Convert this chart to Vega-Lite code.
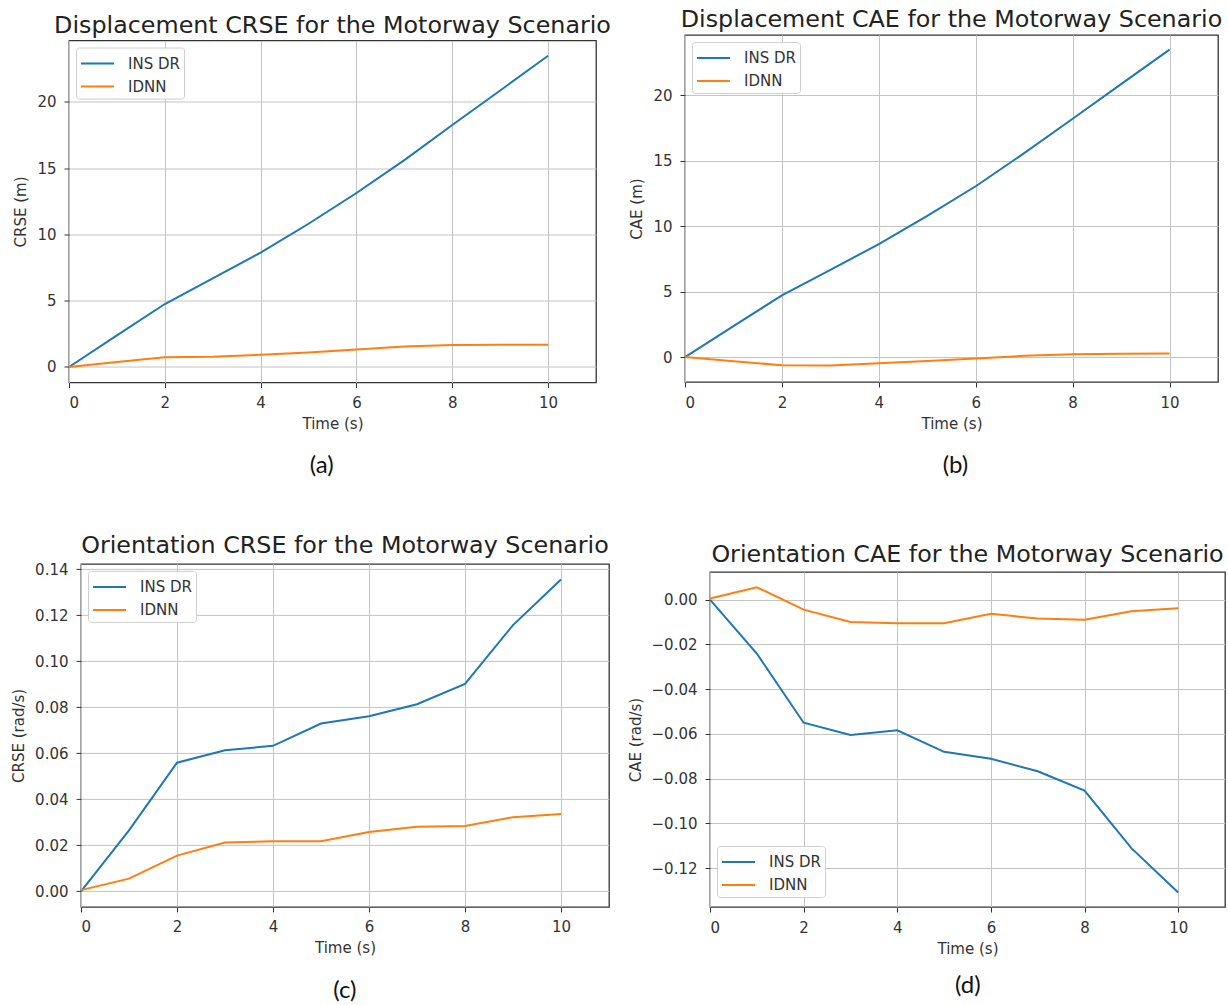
{
  "$schema": "https://vega.github.io/schema/vega-lite/v6.json",
  "background": "white",
  "padding": 0,
  "config": {
    "view": {"stroke": "#333", "strokeWidth": 1.3},
    "axis": {
      "domain": false,
      "grid": true,
      "gridColor": "#c4c4c4",
      "gridWidth": 1,
      "tickColor": "#333",
      "tickSize": 5,
      "tickWidth": 1,
      "labelFont": "DejaVu Sans",
      "labelFontSize": 15,
      "labelColor": "#333",
      "labelPadding": 8,
      "titleFont": "DejaVu Sans",
      "titleFontSize": 15,
      "titleFontWeight": "normal",
      "titleColor": "#333",
      "titlePadding": 8
    },
    "axisX": {"titlePadding": 6},
    "legend": {
      "title": null,
      "fillColor": "white",
      "strokeColor": "#d0d0d0",
      "cornerRadius": 3,
      "padding": 4,
      "offset": 7,
      "labelFont": "DejaVu Sans",
      "labelFontSize": 15,
      "labelColor": "#333",
      "symbolType": "M-1,0H2",
      "symbolStrokeWidth": 2,
      "symbolSize": 484,
      "labelOffset": 24,
      "rowPadding": 3
    },
    "line": {"strokeWidth": 2}
  },
  "datasets": {
    "none": [],
    "a": [
      {"t": 0, "s": "INS DR", "v": 0}, {"t": 1, "s": "INS DR", "v": 2.38}, {"t": 2, "s": "INS DR", "v": 4.75}, {"t": 3, "s": "INS DR", "v": 6.68}, {"t": 4, "s": "INS DR", "v": 8.62}, {"t": 5, "s": "INS DR", "v": 10.8}, {"t": 6, "s": "INS DR", "v": 13.12}, {"t": 7, "s": "INS DR", "v": 15.6}, {"t": 8, "s": "INS DR", "v": 18.25}, {"t": 9, "s": "INS DR", "v": 20.85}, {"t": 10, "s": "INS DR", "v": 23.47},
      {"t": 0, "s": "IDNN", "v": 0}, {"t": 1, "s": "IDNN", "v": 0.38}, {"t": 2, "s": "IDNN", "v": 0.73}, {"t": 3, "s": "IDNN", "v": 0.78}, {"t": 4, "s": "IDNN", "v": 0.92}, {"t": 5, "s": "IDNN", "v": 1.1}, {"t": 6, "s": "IDNN", "v": 1.32}, {"t": 7, "s": "IDNN", "v": 1.55}, {"t": 8, "s": "IDNN", "v": 1.65}, {"t": 9, "s": "IDNN", "v": 1.67}, {"t": 10, "s": "IDNN", "v": 1.68}
    ],
    "b": [
      {"t": 0, "s": "INS DR", "v": 0}, {"t": 1, "s": "INS DR", "v": 2.36}, {"t": 2, "s": "INS DR", "v": 4.72}, {"t": 3, "s": "INS DR", "v": 6.66}, {"t": 4, "s": "INS DR", "v": 8.63}, {"t": 5, "s": "INS DR", "v": 10.78}, {"t": 6, "s": "INS DR", "v": 13.05}, {"t": 7, "s": "INS DR", "v": 15.58}, {"t": 8, "s": "INS DR", "v": 18.2}, {"t": 9, "s": "INS DR", "v": 20.85}, {"t": 10, "s": "INS DR", "v": 23.48},
      {"t": 0, "s": "IDNN", "v": 0}, {"t": 1, "s": "IDNN", "v": -0.32}, {"t": 2, "s": "IDNN", "v": -0.62}, {"t": 3, "s": "IDNN", "v": -0.64}, {"t": 4, "s": "IDNN", "v": -0.47}, {"t": 5, "s": "IDNN", "v": -0.3}, {"t": 6, "s": "IDNN", "v": -0.1}, {"t": 7, "s": "IDNN", "v": 0.1}, {"t": 8, "s": "IDNN", "v": 0.22}, {"t": 9, "s": "IDNN", "v": 0.25}, {"t": 10, "s": "IDNN", "v": 0.27}
    ],
    "c": [
      {"t": 0, "s": "INS DR", "v": 0}, {"t": 1, "s": "INS DR", "v": 0.0265}, {"t": 2, "s": "INS DR", "v": 0.0559}, {"t": 3, "s": "INS DR", "v": 0.0613}, {"t": 4, "s": "INS DR", "v": 0.0632}, {"t": 5, "s": "INS DR", "v": 0.0729}, {"t": 6, "s": "INS DR", "v": 0.0761}, {"t": 7, "s": "INS DR", "v": 0.0813}, {"t": 8, "s": "INS DR", "v": 0.0901}, {"t": 9, "s": "INS DR", "v": 0.1157}, {"t": 10, "s": "INS DR", "v": 0.1355},
      {"t": 0, "s": "IDNN", "v": 0.0005}, {"t": 1, "s": "IDNN", "v": 0.0055}, {"t": 2, "s": "IDNN", "v": 0.0155}, {"t": 3, "s": "IDNN", "v": 0.0212}, {"t": 4, "s": "IDNN", "v": 0.0217}, {"t": 5, "s": "IDNN", "v": 0.0217}, {"t": 6, "s": "IDNN", "v": 0.0258}, {"t": 7, "s": "IDNN", "v": 0.028}, {"t": 8, "s": "IDNN", "v": 0.0284}, {"t": 9, "s": "IDNN", "v": 0.0322}, {"t": 10, "s": "IDNN", "v": 0.0336}
    ],
    "d": [
      {"t": 0, "s": "INS DR", "v": 0}, {"t": 1, "s": "INS DR", "v": -0.0241}, {"t": 2, "s": "INS DR", "v": -0.055}, {"t": 3, "s": "INS DR", "v": -0.0605}, {"t": 4, "s": "INS DR", "v": -0.0584}, {"t": 5, "s": "INS DR", "v": -0.068}, {"t": 6, "s": "INS DR", "v": -0.0711}, {"t": 7, "s": "INS DR", "v": -0.0767}, {"t": 8, "s": "INS DR", "v": -0.0853}, {"t": 9, "s": "INS DR", "v": -0.111}, {"t": 10, "s": "INS DR", "v": -0.1308},
      {"t": 0, "s": "IDNN", "v": 0.0005}, {"t": 1, "s": "IDNN", "v": 0.0055}, {"t": 2, "s": "IDNN", "v": -0.0045}, {"t": 3, "s": "IDNN", "v": -0.01}, {"t": 4, "s": "IDNN", "v": -0.0106}, {"t": 5, "s": "IDNN", "v": -0.0106}, {"t": 6, "s": "IDNN", "v": -0.0064}, {"t": 7, "s": "IDNN", "v": -0.0085}, {"t": 8, "s": "IDNN", "v": -0.009}, {"t": 9, "s": "IDNN", "v": -0.0052}, {"t": 10, "s": "IDNN", "v": -0.0039}
    ]
  },
  "columns": 2,
  "align": "all",
  "spacing": {"row": 39.5, "column": 10},
  "resolve": {"scale": {"color": "independent"}, "legend": {"color": "independent"}},
  "concat": [
    {
      "title": {"text": "(a)", "orient": "bottom", "anchor": "middle", "font": "Lato", "fontSize": 24, "fontWeight": "normal", "color": "#111", "offset": 21.5, "dx": 16},
      "spacing": 11.5,
      "resolve": {"scale": {"color": "independent"}, "legend": {"color": "independent"}},
      "vconcat": [
        {"width": 1, "height": 1, "data": {"name": "none"}, "mark": {"type": "point", "opacity": 0}, "view": {"stroke": null}},
        {
          "spacing": 12,
          "resolve": {"scale": {"color": "independent"}, "legend": {"color": "independent"}},
          "hconcat": [
            {"width": 1, "height": 1, "data": {"name": "none"}, "mark": {"type": "point", "opacity": 0}, "view": {"stroke": null}},
            {
              "title": {"text": "Displacement CRSE for the Motorway Scenario", "font": "DejaVu Sans", "fontSize": 23.8, "fontWeight": "normal", "color": "#222", "offset": 3, "anchor": "middle"},
              "width": 527, "height": 342,
              "data": {"name": "a"},
              "mark": {"type": "line"},
              "encoding": {
                "x": {"field": "t", "type": "quantitative", "title": "Time (s)", "scale": {"domain": [0, 11], "nice": false, "zero": false}, "axis": {"values": [0, 2, 4, 6, 8, 10]}},
                "y": {"field": "v", "type": "quantitative", "title": "CRSE (m)", "scale": {"domain": [-1.17, 24.62], "nice": false, "zero": false}, "axis": {"values": [0, 5, 10, 15, 20]}},
                "color": {"field": "s", "type": "nominal", "scale": {"domain": ["INS DR", "IDNN"], "range": ["#1f77b4", "#ff7f0e"]}, "legend": {"orient": "top-left"}}
              }
            }
          ]
        }
      ]
    },
    {
      "title": {"text": "(b)", "orient": "bottom", "anchor": "middle", "font": "Lato", "fontSize": 24, "fontWeight": "normal", "color": "#111", "offset": 22, "dx": 33},
      "spacing": 6,
      "resolve": {"scale": {"color": "independent"}, "legend": {"color": "independent"}},
      "vconcat": [
        {"width": 1, "height": 1, "data": {"name": "none"}, "mark": {"type": "point", "opacity": 0}, "view": {"stroke": null}},
        {
          "spacing": 6,
          "resolve": {"scale": {"color": "independent"}, "legend": {"color": "independent"}},
          "hconcat": [
            {"width": 1, "height": 1, "data": {"name": "none"}, "mark": {"type": "point", "opacity": 0}, "view": {"stroke": null}},
            {
              "title": {"text": "Displacement CAE for the Motorway Scenario", "font": "DejaVu Sans", "fontSize": 23.8, "fontWeight": "normal", "color": "#222", "offset": 3, "anchor": "middle"},
              "width": 533, "height": 347,
              "data": {"name": "b"},
              "mark": {"type": "line"},
              "encoding": {
                "x": {"field": "t", "type": "quantitative", "title": "Time (s)", "scale": {"domain": [0, 11], "nice": false, "zero": false}, "axis": {"values": [0, 2, 4, 6, 8, 10]}},
                "y": {"field": "v", "type": "quantitative", "title": "CAE (m)", "scale": {"domain": [-1.9, 24.6], "nice": false, "zero": false}, "axis": {"values": [0, 5, 10, 15, 20]}},
                "color": {"field": "s", "type": "nominal", "scale": {"domain": ["INS DR", "IDNN"], "range": ["#1f77b4", "#ff7f0e"]}, "legend": {"orient": "top-left"}}
              }
            }
          ]
        }
      ]
    },
    {
      "title": {"text": "(c)", "orient": "bottom", "anchor": "middle", "font": "Lato", "fontSize": 24, "fontWeight": "normal", "color": "#111", "offset": 22.5, "dx": 40},
      "spacing": 10.4,
      "resolve": {"scale": {"color": "independent"}, "legend": {"color": "independent"}},
      "vconcat": [
        {"width": 1, "height": 1, "data": {"name": "none"}, "mark": {"type": "point", "opacity": 0}, "view": {"stroke": null}},
        {
          "spacing": 9,
          "resolve": {"scale": {"color": "independent"}, "legend": {"color": "independent"}},
          "hconcat": [
            {"width": 1, "height": 1, "data": {"name": "none"}, "mark": {"type": "point", "opacity": 0}, "view": {"stroke": null}},
            {
              "title": {"text": "Orientation CRSE for the Motorway Scenario", "font": "DejaVu Sans", "fontSize": 23.8, "fontWeight": "normal", "color": "#222", "offset": 4, "anchor": "middle"},
              "width": 528, "height": 343,
              "data": {"name": "c"},
              "mark": {"type": "line"},
              "encoding": {
                "x": {"field": "t", "type": "quantitative", "title": "Time (s)", "scale": {"domain": [0, 11], "nice": false, "zero": false}, "axis": {"values": [0, 2, 4, 6, 8, 10]}},
                "y": {"field": "v", "type": "quantitative", "title": "CRSE (rad/s)", "scale": {"domain": [-0.0068, 0.1423], "nice": false, "zero": false}, "axis": {"values": [0, 0.02, 0.04, 0.06, 0.08, 0.1, 0.12, 0.14], "format": ".2f"}},
                "color": {"field": "s", "type": "nominal", "scale": {"domain": ["INS DR", "IDNN"], "range": ["#1f77b4", "#ff7f0e"]}, "legend": {"orient": "top-left"}}
              }
            }
          ]
        }
      ]
    },
    {
      "title": {"text": "(d)", "orient": "bottom", "anchor": "middle", "font": "Lato", "fontSize": 24, "fontWeight": "normal", "color": "#111", "offset": 17.5, "dx": 44},
      "spacing": 19.5,
      "resolve": {"scale": {"color": "independent"}, "legend": {"color": "independent"}},
      "vconcat": [
        {"width": 1, "height": 1, "data": {"name": "none"}, "mark": {"type": "point", "opacity": 0}, "view": {"stroke": null}},
        {
          "spacing": 4,
          "resolve": {"scale": {"color": "independent"}, "legend": {"color": "independent"}},
          "hconcat": [
            {"width": 1, "height": 1, "data": {"name": "none"}, "mark": {"type": "point", "opacity": 0}, "view": {"stroke": null}},
            {
              "title": {"text": "Orientation CAE for the Motorway Scenario", "font": "DejaVu Sans", "fontSize": 23.8, "fontWeight": "normal", "color": "#222", "offset": 5, "anchor": "middle"},
              "width": 515, "height": 335,
              "data": {"name": "d"},
              "mark": {"type": "line"},
              "encoding": {
                "x": {"field": "t", "type": "quantitative", "title": "Time (s)", "scale": {"domain": [0, 11], "nice": false, "zero": false}, "axis": {"values": [0, 2, 4, 6, 8, 10]}},
                "y": {"field": "v", "type": "quantitative", "title": "CAE (rad/s)", "scale": {"domain": [-0.1373, 0.0123], "nice": false, "zero": false}, "axis": {"values": [-0.12, -0.1, -0.08, -0.06, -0.04, -0.02, 0], "format": ".2f"}},
                "color": {"field": "s", "type": "nominal", "scale": {"domain": ["INS DR", "IDNN"], "range": ["#1f77b4", "#ff7f0e"]}, "legend": {"orient": "none", "legendX": 7, "legendY": 274}}
              }
            }
          ]
        }
      ]
    }
  ]
}
